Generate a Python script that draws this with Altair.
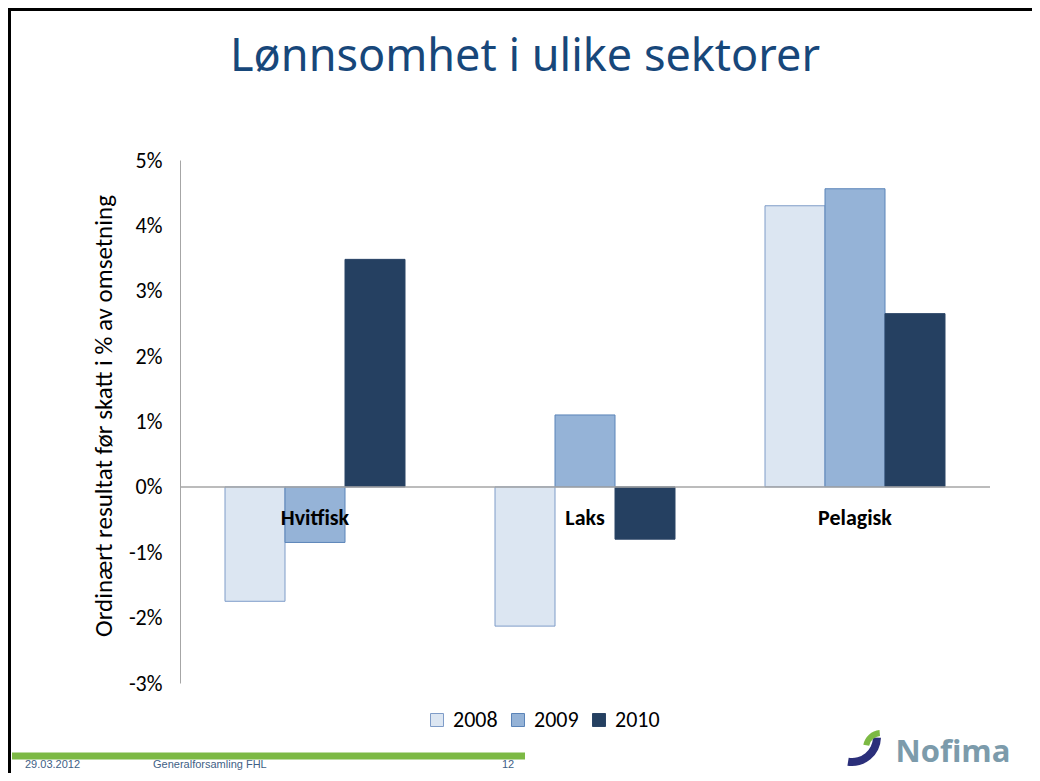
import altair as alt
import pandas as pd

sectors = ["Hvitfisk", "Laks", "Pelagisk"]
years = ["2008", "2009", "2010"]
v2008 = [-1.75, -2.13, 4.30]
v2009 = [-0.85, 1.10, 4.56]
v2010 = [3.48, -0.80, 2.65]
y_ticks = [-3, -2, -1, 0, 1, 2, 3, 4, 5]

fills = ["#DCE6F2", "#95B3D7", "#254061"]
strokes = ["#7F9CC8", "#5B84B8", "#2A4466"]

rows = []
for yr, vals in zip(years, [v2008, v2009, v2010]):
    for s, v in zip(sectors, vals):
        rows.append({"sector": s, "year": yr, "value": v})
df = pd.DataFrame(rows)

FONT = "Carlito, Calibri, Lato"
# plot origin in page coords: (180, 160)
OX, OY = 180, 160

legend = alt.Legend(
    title=None, orient="none", legendX=426 - OX, legendY=709 - OY,
    direction="horizontal", symbolType="square", symbolSize=169,
    symbolStrokeWidth=1, labelFontSize=22, labelFont=FONT, labelColor="#000000",
    labelOffset=5, columnPadding=9, padding=0,
)

bars = alt.Chart(df).mark_bar(strokeWidth=1).encode(
    x=alt.X("sector:N", sort=sectors, axis=None,
            scale=alt.Scale(paddingInner=1/3, paddingOuter=1/6)),
    xOffset=alt.XOffset("year:N", sort=years,
                        scale=alt.Scale(paddingInner=0, paddingOuter=0)),
    y=alt.Y("value:Q",
            scale=alt.Scale(domain=[-3, 5], nice=False, zero=False),
            axis=alt.Axis(values=y_ticks, labelExpr="datum.value + '%'",
                          title=None, grid=False, ticks=False,
                          domainColor="#A6A6A6", domainWidth=1,
                          labelFontSize=22, labelFont=FONT, labelColor="#000000",
                          labelPadding=18)),
    color=alt.Color("year:N", scale=alt.Scale(domain=years, range=fills), legend=legend),
    stroke=alt.Stroke("year:N", scale=alt.Scale(domain=years, range=strokes), legend=legend),
)

zero = alt.Chart(pd.DataFrame({"z": [0]})).mark_rule(
    color="#A6A6A6", strokeWidth=1.5).encode(y="z:Q")

cat_labels = alt.Chart(pd.DataFrame({"sector": sectors, "z": [0, 0, 0]})).mark_text(
    dy=31, fontWeight="bold", fontSize=22, font=FONT, color="#000000"
).encode(x=alt.X("sector:N", sort=sectors), y="z:Q", text="sector:N")


def txt(s, px, py, **kw):
    return alt.Chart(pd.DataFrame({"t": [s]})).mark_text(**kw).encode(
        x=alt.value(px - OX), y=alt.value(py - OY), text="t:N")


title = txt("Lønnsomhet i ulike sektorer", 525, 57, fontSize=45,
            font="Comic Sans MS, Noto Sans", color="#17477A", baseline="middle")
ytitle = txt("Ordinært resultat før skatt i % av omsetning", 104, 416, angle=270,
             fontSize=25, font=FONT, color="#000000", baseline="middle")

green = alt.Chart(pd.DataFrame({"a": [0]})).mark_rule(
    color="#7CB944", strokeWidth=7).encode(
    x=alt.value(12 - OX), x2=alt.value(525 - OX), y=alt.value(756 - OY))

foot1 = txt("29.03.2012", 25, 765, fontSize=11, font="Liberation Sans",
            color="#3F5F86", align="left", baseline="middle")
foot2 = txt("Generalforsamling FHL", 153, 765, fontSize=11, font="Liberation Sans",
            color="#3F5F86", align="left", baseline="middle")
foot3 = txt("12", 508, 765, fontSize=11, font="Liberation Sans",
            color="#3F5F86", align="center", baseline="middle")

nofima = txt("Nofima", 953, 753, fontSize=31, fontWeight="bold", font="Open Sans",
             color="#7C9BAB", align="center", baseline="middle")

arcs_df = pd.DataFrame({"a": [0]})
navy_arc = alt.Chart(arcs_df).mark_arc(
    color="#2B2F7A", innerRadius=21, outerRadius=29, theta=1.6, theta2=3.3).encode(
    x=alt.value(852 - OX), y=alt.value(737 - OY))
green_arc = alt.Chart(arcs_df).mark_arc(
    color="#7CB944", innerRadius=12, outerRadius=18, theta=4.9, theta2=6.2).encode(
    x=alt.value(881 - OX), y=alt.value(748 - OY))

frame_top = alt.Chart(pd.DataFrame({"a": [0]})).mark_rule(
    color="#000000", strokeWidth=3).encode(
    x=alt.value(8 - OX), x2=alt.value(1032 - OX), y=alt.value(9.5 - OY))
frame_left = alt.Chart(pd.DataFrame({"a": [0]})).mark_rule(
    color="#000000", strokeWidth=3).encode(
    x=alt.value(9.5 - OX), y=alt.value(8 - OY), y2=alt.value(773 - OY))

chart = alt.layer(
    bars, zero, cat_labels, title, ytitle, green, foot1, foot2, foot3,
    nofima, navy_arc, green_arc, frame_top, frame_left,
).properties(
    width=810, height=523,
    padding={"left": 172, "top": 152, "right": 42, "bottom": 90},
    autosize=alt.AutoSizeParams(type="none"),
).configure_view(stroke=None)

chart.save("out.html", embed_options={"renderer": "svg", "actions": False})
